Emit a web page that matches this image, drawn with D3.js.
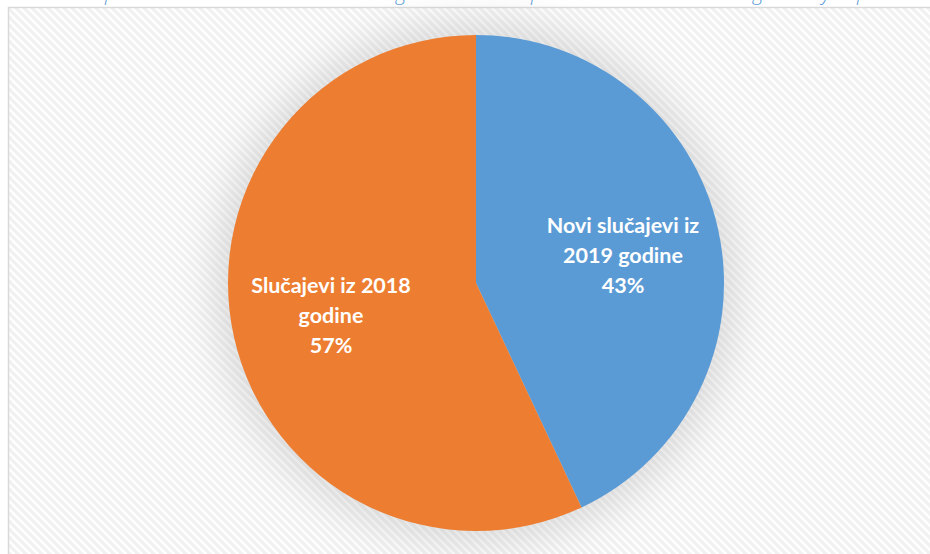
<!DOCTYPE html>
<html><head><meta charset="utf-8">
<script src="https://cdn.jsdelivr.net/npm/d3@7"></script>
<style>html,body{margin:0;padding:0;background:#fff;}svg{display:block;}</style>
</head><body>
<svg id="chart" width="930" height="554"></svg>
<script>
const categories = ["Novi slučajevi iz 2019 godine", "Slučajevi iz 2018 godine"];
const values = [43, 57];
const labelLines = [["Novi slučajevi iz", "2019 godine", "43%"], ["Slučajevi iz 2018", "godine", "57%"]];
const colors = ["#5B9BD5", "#ED7D31"];
const captionGlyphs = [{t:"p", x:105}, {t:"g", x:396}, {t:"p", x:531}, {t:"g", x:753}, {t:"y", x:822}, {t:"p", x:857}];

const W = 930, H = 554;
const svg = d3.select("#chart");
const defs = svg.append("defs");

const pat = defs.append("pattern").attr("id","hatch").attr("patternUnits","userSpaceOnUse")
  .attr("width",8).attr("height",8);
pat.append("rect").attr("width",8).attr("height",8).attr("fill","#ffffff");
pat.append("path").attr("d","M-2,-2 L10,10 M-2,6 L2,10 M6,-2 L10,2")
  .attr("stroke","#f1f1f1").attr("stroke-width",3.2);

const blur = defs.append("filter").attr("id","shadow").attr("x","-40%").attr("y","-40%").attr("width","180%").attr("height","180%");
blur.append("feGaussianBlur").attr("stdDeviation",20);

// caption descenders (text cut off at top)
svg.append("g").selectAll("text").data(captionGlyphs).join("text")
  .attr("x", d => d.x).attr("y", 0)
  .attr("font-family","'Open Sans', sans-serif").attr("font-style","italic").attr("font-weight",300)
  .attr("font-size",20).attr("fill","#5B9BD5").text(d => d.t);

// chart frame
svg.append("rect").attr("x",8.5).attr("y",7.5).attr("width",W+20).attr("height",H+20)
  .attr("fill","url(#hatch)").attr("stroke","#d9d9d9").attr("stroke-width",1.5);

const cx = 476, cy = 283, r = 248;
const g = svg.append("g").attr("transform",`translate(${cx},${cy})`);

g.append("circle").attr("r", r+12).attr("fill","#a0a0a0").attr("opacity",0.35).attr("filter","url(#shadow)");

const pie = d3.pie().sort(null).value(d => d)(values);
const arc = d3.arc().innerRadius(0).outerRadius(r);
g.selectAll("path.slice").data(pie).join("path").attr("class","slice")
  .attr("d", arc).attr("fill", (d,i) => colors[i]);

const labelPos = [{x:623, y:233}, {x:331, y:293}];
svg.append("g").selectAll("text").data(labelLines).join("text")
  .attr("text-anchor","middle")
  .attr("font-family","Lato, sans-serif").attr("font-weight",700).attr("font-size",21.5)
  .attr("fill","#ffffff")
  .each(function(lines, i) {
    const t = d3.select(this);
    lines.forEach((ln, j) => {
      t.append("tspan").attr("x", labelPos[i].x).attr("y", labelPos[i].y + j*30).text(ln);
    });
  });
</script>
</body></html>
